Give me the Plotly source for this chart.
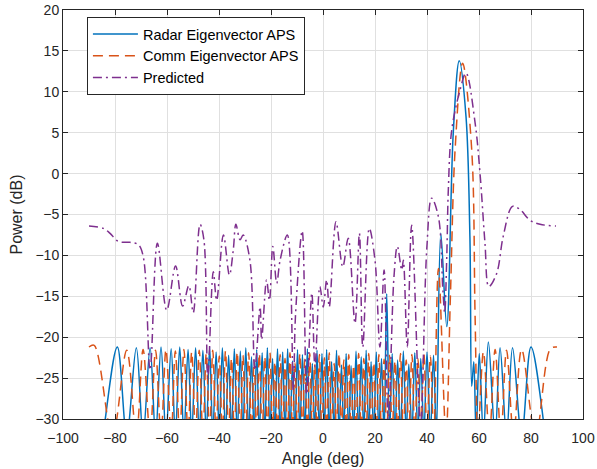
import plotly.graph_objects as go

# ---------------- data ----------------
radar_deg = [
    -90, -84.6, -79.1, -75.5, -71.8, -69.2, -66.5, -64.4, -62.3, -60.4,
    -58.4, -56.8, -55.1, -53.5, -51.9, -50.5, -49.0, -47.6, -46.2, -44.9,
    -43.6, -42.4, -41.1, -39.9, -38.7, -37.5, -36.3, -35.2, -34.1, -33.0,
    -31.8, -30.8, -29.7, -28.6, -27.5, -26.5, -25.5, -24.5, -23.4, -22.4,
    -21.4, -20.4, -19.4, -18.5, -17.5, -16.5, -15.5, -14.6, -13.6, -12.7,
    -11.7, -10.8, -9.8, -8.9, -7.9, -7.0, -6.0, -5.1, -4.1, -3.2,
    -2.3, -1.4, -0.4, 0.5, 1.4, 2.4, 3.3, 4.3, 5.2, 6.2,
    7.1, 8.0, 8.9, 9.9, 10.8, 11.8, 12.7, 13.7, 14.7, 15.7,
    16.6, 17.6, 18.5, 19.5, 20.5, 21.5, 22.5, 23.5, 24.5, 25.6,
    26.6, 27.7, 28.7, 29.8, 30.9, 32.0, 33.0, 34.2, 35.3, 36.5,
    37.6, 38.8, 40.0, 41.3, 42.5, 43.6, 45.3, 47.6, 50.1, 52.4,
    55.0, 56.5, 57.2, 58.0, 58.9, 60.1, 61.7, 63.6, 66.2, 68.1,
    70.6, 72.9, 76.4, 80.0, 85.5, 90,
]
radar_db = [
    -45, -32, -21.2, -32, -21.3, -32, -21.3, -32, -21.2, -32,
    -21.4, -32, -21.2, -32, -21.5, -32, -21.3, -32, -21.6, -32,
    -21.2, -32, -21.8, -32, -21.3, -32, -22.2, -32, -21.4, -32,
    -21.7, -32, -21.3, -32, -22.4, -32, -21.5, -32, -21.9, -32,
    -21.3, -32, -22.6, -32, -21.4, -32, -21.8, -32, -21.4, -32,
    -22.9, -32, -21.5, -32, -22.1, -32, -21.4, -32, -23.2, -32,
    -21.6, -32, -22.0, -32, -21.5, -32, -23.0, -32, -21.6, -32,
    -23.4, -32, -22.0, -32, -23.5, -32, -21.7, -32, -22.4, -32,
    -21.6, -32, -23.0, -32, -21.8, -32, -22.6, -32, -14.7, -32,
    -22.0, -32, -22.8, -32, -21.7, -32, -23.3, -32, -21.9, -32,
    -22.6, -32, -21.8, -32, -22.2, -32, -7.3, -18.7, 5.0, 13.8,
    7.0, -7.7, -26.0, -23.0, -32, -22.0, -32, -20.6, -32, -21.3,
    -32, -21.3, -32, -21.2, -32, -45,
]

comm_deg = [
    -90, -88.0, -81.0, -75.5, -71.8, -69.2, -66.5, -64.4, -62.3, -60.4,
    -58.4, -56.8, -55.1, -53.5, -51.9, -50.5, -49.0, -47.6, -46.2, -44.9,
    -43.6, -42.4, -41.1, -39.9, -38.7, -37.5, -36.3, -35.2, -34.1, -33.0,
    -31.8, -30.8, -29.7, -28.6, -27.5, -26.5, -25.5, -24.5, -23.4, -22.4,
    -21.4, -20.4, -19.4, -18.5, -17.5, -16.5, -15.5, -14.6, -13.6, -12.7,
    -11.7, -10.8, -9.8, -8.9, -7.9, -7.0, -6.0, -5.1, -4.1, -3.2,
    -2.3, -1.4, -0.4, 0.5, 1.4, 2.4, 3.3, 4.3, 5.2, 6.2,
    7.1, 8.0, 8.9, 9.9, 10.8, 11.8, 12.7, 13.7, 14.7, 15.7,
    16.6, 17.6, 18.5, 19.5, 20.5, 21.5, 22.5, 23.5, 24.5, 25.6,
    26.6, 27.7, 28.7, 29.8, 30.9, 32.0, 33.0, 34.2, 35.3, 36.5,
    37.6, 38.8, 40.0, 41.3, 42.6, 44.4, 47.3, 49.0, 50.8, 53.7,
    57.2, 58.5, 59.6, 61.7, 64.0, 66.2, 68.4, 70.6, 73.3, 76.4,
    81.8, 87.5, 90,
]
comm_db = [
    -21.2, -21.0, -32, -21.6, -32, -21.5, -32, -21.6, -32, -21.5,
    -32, -21.7, -32, -21.5, -32, -21.8, -32, -21.6, -32, -22.0,
    -32, -21.6, -32, -22.3, -32, -21.7, -32, -22.6, -32, -21.8,
    -32, -22.2, -32, -21.9, -32, -22.8, -32, -22.0, -32, -22.4,
    -32, -21.9, -32, -23.0, -32, -22.1, -32, -22.6, -32, -21.9,
    -32, -23.1, -32, -22.0, -32, -22.7, -32, -22.0, -32, -23.3,
    -32, -22.1, -32, -22.5, -32, -21.9, -32, -23.2, -32, -22.0,
    -32, -22.8, -32, -22.1, -32, -23.4, -32, -22.0, -32, -22.6,
    -32, -22.0, -32, -23.1, -32, -22.1, -32, -22.7, -32, -22.2,
    -32, -22.9, -32, -22.0, -32, -22.8, -32, -22.1, -32, -22.6,
    -32, -22.0, -32, -22.3, -32, -11.6, -32, -15.0, 2.9, 13.5,
    2.9, -17.5, -32, -21.8, -32, -21.5, -32, -21.6, -32, -21.5,
    -32, -21.4, -21.2,
]

pred_deg = [
    -90, -84.5, -81.9, -78.7, -74.2, -71.0, -69.1, -66.5, -63.7, -60.1,
    -56.7, -54.0, -51.6, -49.9, -47.3, -45.8, -44.3, -42.2, -40.9, -38.3,
    -36.0, -34.5, -33.5, -31.9, -30.7, -28.1, -26.2, -24.2, -23.6, -21.7,
    -20.6, -19.3, -17.8, -16.5, -13.7, -11.4, -10.6, -8.0, -6.3, -4.3,
    -3.1, -1.2, 0.1, 1.4, 2.4, 5.0, 7.6, 9.7, 12.3, 14.0,
    15.3, 17.8, 20.0, 21.9, 23.5, 25.1, 27.3, 28.6, 30.3, 30.9,
    32.4, 34.1, 37.5, 39.9, 41.8, 44.4, 46.1, 46.8, 47.6, 48.2,
    49.5, 52.7, 55.0, 58.5, 60.4, 62.3, 63.8, 66.8, 69.3, 72.9,
    75.8, 79.6, 83.5, 89.6,
]
pred_db = [
    -6.4, -6.7, -7.3, -8.3, -8.4, -8.7, -10.2, -24.0, -8.5, -16.7,
    -11.3, -16.2, -13.7, -17.0, -6.2, -8.1, -25.0, -12.0, -15.5, -7.5,
    -12.4, -9.3, -6.2, -8.1, -7.5, -10.6, -24.0, -16.3, -20.3, -13.0,
    -15.5, -8.9, -13.4, -10.6, -7.5, -26.5, -17.5, -7.0, -27.0, -14.6,
    -23.6, -13.8, -16.3, -13.0, -16.3, -5.9, -11.4, -7.9, -18.3, -7.3,
    -21.2, -6.7, -10.6, -21.2, -11.8, -30.5, -12.6, -8.9, -11.8, -10.6,
    -21.2, -6.3, -30.5, -9.3, -3.0, -5.3, -14.2, -17.0, -10.2, -2.0,
    5.3, 10.2, 12.3, 6.2, 0.0, -8.5, -13.8, -12.2, -7.7, -4.0,
    -4.4, -5.7, -6.2, -6.4,
]

series_names = ["Radar Eigenvector APS", "Comm Eigenvector APS", "Predicted"]
x_ticks = [-100, -80, -60, -40, -20, 0, 20, 40, 60, 80, 100]
y_ticks = [-30, -25, -20, -15, -10, -5, 0, 5, 10, 15, 20]

# ---------------- figure ----------------
FONT = "Liberation Sans, Arial, Helvetica, sans-serif"
INK = "#262626"

fig = go.Figure()
fig.add_trace(go.Scatter(
    x=radar_deg, y=radar_db, mode="lines", name=series_names[0],
    line=dict(color="#0072BD", width=1.5, shape="spline", smoothing=1.0),
))
fig.add_trace(go.Scatter(
    x=comm_deg, y=comm_db, mode="lines", name=series_names[1],
    line=dict(color="#D95319", width=1.5, dash="10px,6px", shape="spline", smoothing=1.0),
))
fig.add_trace(go.Scatter(
    x=pred_deg, y=pred_db, mode="lines", name=series_names[2],
    line=dict(color="#7E2F8E", width=1.5, dash="9px,4px,2px,4px", shape="spline", smoothing=1.0),
))

axis_common = dict(
    showline=True, mirror="ticks", linecolor=INK, linewidth=1,
    ticks="inside", ticklen=5, tickcolor=INK, tickwidth=1,
    showgrid=True, gridcolor="#e0e0e0", gridwidth=1,
    zeroline=False, automargin=False,
    tickfont=dict(family=FONT, size=14, color=INK),
)

fig.update_layout(
    width=597, height=469,
    margin=dict(l=63, r=14, t=10, b=50),
    paper_bgcolor="white", plot_bgcolor="white",
    font=dict(family=FONT, color=INK),
    xaxis=dict(range=[-100, 100], tickvals=x_ticks, ticklabelstandoff=6,
               title=dict(text="Angle (deg)", font=dict(family=FONT, size=16, color=INK), standoff=8),
               **axis_common),
    yaxis=dict(range=[-30, 20], tickvals=y_ticks,
               title=dict(text="Power (dB)", font=dict(family=FONT, size=16, color=INK), standoff=8),
               **axis_common),
    legend=dict(x=0.046, y=0.983, xanchor="left", yanchor="top",
                bgcolor="white", bordercolor=INK, borderwidth=1,
                font=dict(family=FONT, size=14.5, color="black"),
                itemwidth=45, tracegroupgap=0),
    showlegend=True,
)

# remove the browser's default 8px page margin so the figure fills the window
fig.write_html("out.html",
               config={"displayModeBar": False},
               post_script="document.body.style.margin='0';document.body.style.overflow='hidden';")
